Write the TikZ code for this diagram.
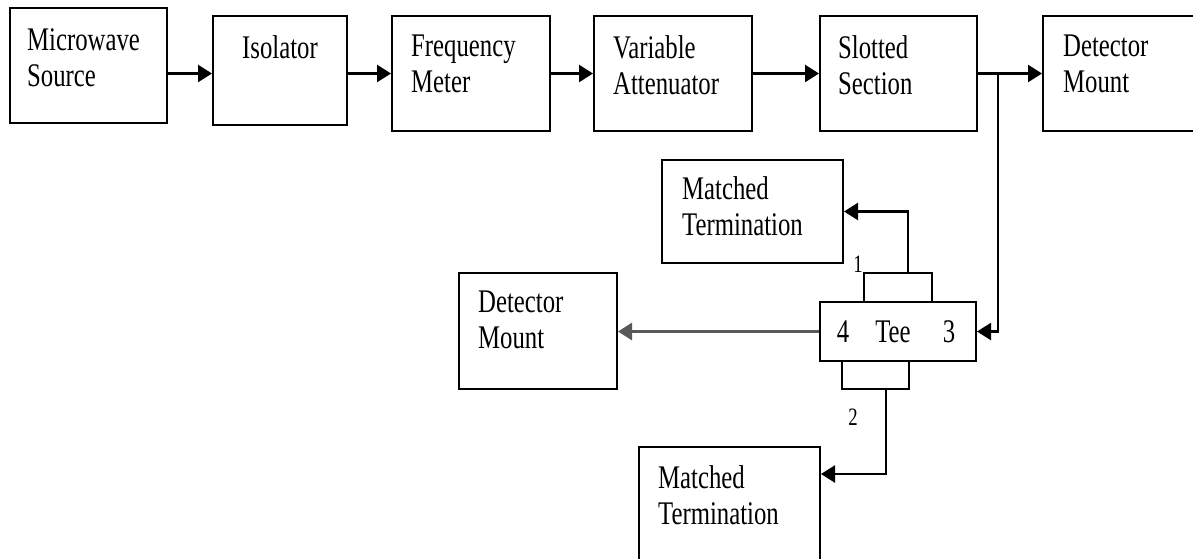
\documentclass[tikz,border=0pt]{standalone}
\usepackage{fontspec}
\setmainfont[FakeStretch=0.75]{Liberation Serif}
\usetikzlibrary{arrows.meta,positioning}

\begin{document}
\begin{tikzpicture}[x=1pt, y=-1pt, >={Triangle[length=14pt,width=17pt]},
      block/.style={draw=black,line width=2pt,inner sep=0,anchor=north west},
      caption/.style={anchor=north west,inner sep=0,align=left,font=\fontsize{33}{36}\selectfont},
      portnum/.style={inner sep=0,anchor=base,font=\fontsize{33}{36}\selectfont},
      armnum/.style={inner sep=0,anchor=base,font=\fontsize{25}{28}\selectfont},
      link/.style={line width=2.4pt,->}]
    \useasboundingbox (0,0) rectangle (1193,558);
    \clip (0,0) rectangle (1193,558);
    % bench along the top
    \node[block,minimum width=157,minimum height=115] at (9,7) (src) {};
    \node[block,minimum width=134,minimum height=109] at (212,15) (iso) {};
    \node[block,minimum width=158,minimum height=115] at (391,15) (freq) {};
    \node[block,minimum width=158,minimum height=115] at (593,15) (att) {};
    \node[block,minimum width=157,minimum height=115] at (819,15) (slot) {};
    \node[block,minimum width=170,minimum height=115] at (1042,15) (det) {};
    \node[caption] at ([shift={(18,21)}]src.north west) (srctxt) {Microwave\\Source};
    \node[caption] at ([shift={(30,20)}]iso.north west) (isotxt) {Isolator};
    \node[caption] at ([shift={(20,20)}]freq.north west) (freqtxt) {Frequency\\Meter};
    \node[caption] at ([shift={(20,20)}]att.north west) (atttxt) {Variable\\Attenuator};
    \node[caption] at ([shift={(19,20)}]slot.north west) (slottxt) {Slotted\\Section};
    \node[caption] at ([shift={(21,20)}]det.north west) (dettxt) {Detector\\Mount};
    % tee and its loads
    \node[block,minimum width=156,minimum height=59] at (819,301) (tee) {};
    \node[block,minimum width=68,minimum height=29] at (863,272) (arma) {};
    \node[block,minimum width=67,minimum height=28] at (841,360) (armb) {};
    \node[block,minimum width=181,minimum height=103] at (661,159) (loada) {};
    \node[block,minimum width=158,minimum height=116] at (458,272) (detb) {};
    \node[block,minimum width=181,minimum height=130] at (638,446) (loadb) {};
    \node[caption] at ([shift={(21,17)}]loada.north west) (loadatxt) {Matched\\Termination};
    \node[caption] at ([shift={(20,19)}]detb.north west) (detbtxt) {Detector\\Mount};
    \node[caption] at ([shift={(20,19)}]loadb.north west) (loadbtxt) {Matched\\Termination};
    \node[portnum] at (843,342) (pfour) {4};
    \node[portnum] at (893,342) (tname) {Tee};
    \node[portnum] at (949,342) (pthree) {3};
    \node[armnum] at (858,272) (pone) {1};
    \node[armnum] at (853,425) (ptwo) {2};
    \coordinate (split) at (998,72.5);
    \coordinate (aout) at (908,272);
    \coordinate (bout) at (886,388);
    \coordinate (bturn) at (886,474);
    \draw[link] (src.east |- slot.west) -- (iso.west |- slot.west);
    \draw[link] (iso.east |- slot.west) -- (freq.west);
    \draw[link] (freq) -- (att);
    \draw[link] (att) -- (slot);
    \draw[link] (slot) -- (det);
    \draw[link] (split) |- (tee.east);
    \draw[link] (aout) |- (loada.east);
    \draw[link] (bout) -- (bturn) -- (bturn -| loadb.east);
    \draw[link,draw=black!65,line width=3pt] (tee.west) -- (tee.west -| detb.east);
\end{tikzpicture}
\end{document}
